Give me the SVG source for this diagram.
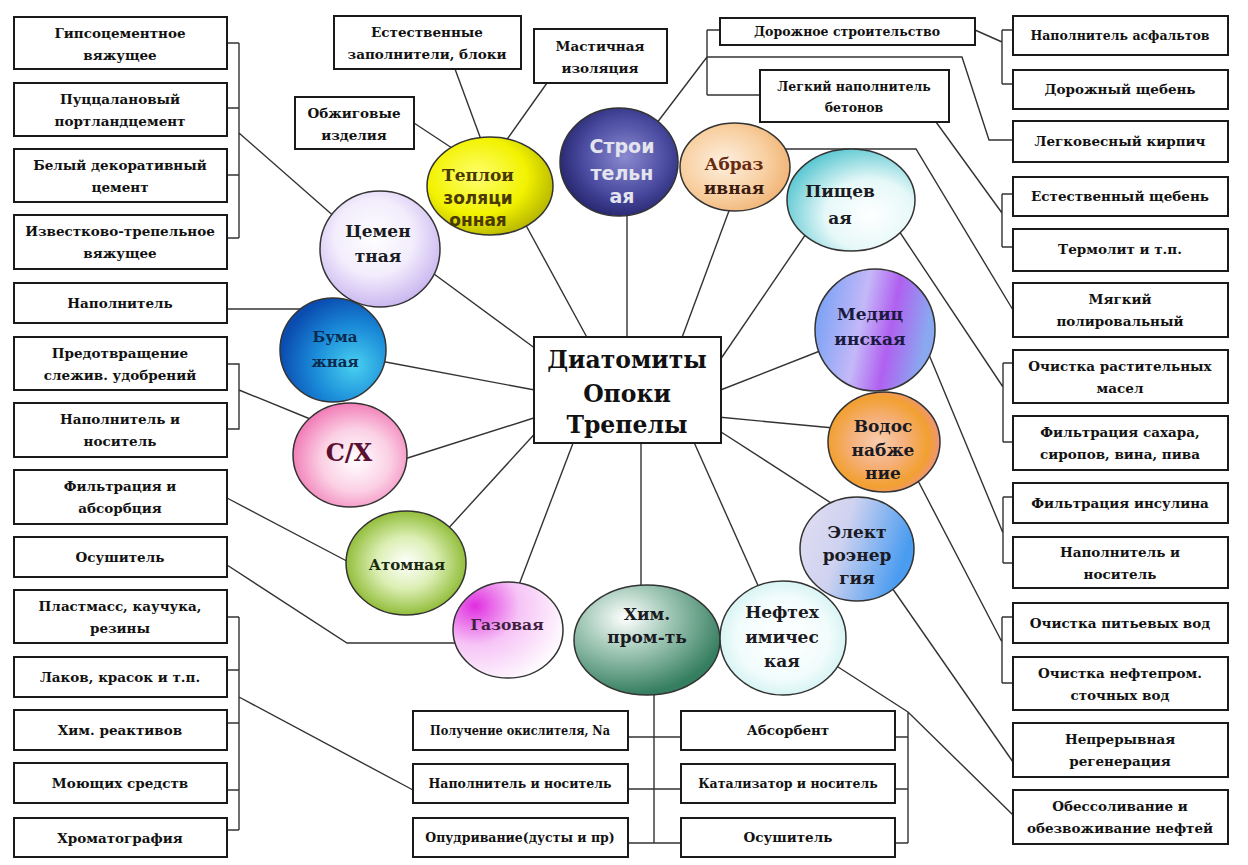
<svg xmlns="http://www.w3.org/2000/svg" width="1248" height="865" viewBox="0 0 1248 865">
<defs>
<style>
.box{fill:#fff;stroke:#1a1a1a;stroke-width:2}
.t{font-family:"DejaVu Serif","Liberation Serif",serif;font-weight:bold;font-size:13.5px;fill:#111;text-anchor:middle}
.s{font-size:12.5px}
.ct{font-family:"DejaVu Serif","Liberation Serif",serif;font-weight:bold;font-size:17px;fill:#1a1a22;text-anchor:middle}
.sans{font-family:"DejaVu Sans","Liberation Sans",sans-serif;font-weight:bold}
.cir{stroke:#333;stroke-width:1.5}
.ln{fill:none;stroke:#333;stroke-width:1.4}
.big{font-size:23.5px}
</style>
<radialGradient id="gCem" cx="45%" cy="40%" r="60%"><stop offset="0" stop-color="#ffffff"/><stop offset="0.55" stop-color="#f2ecfc"/><stop offset="1" stop-color="#cbb8f0"/></radialGradient>
<radialGradient id="gTep" cx="40%" cy="40%" r="65%"><stop offset="0" stop-color="#ffff70"/><stop offset="0.6" stop-color="#f2f200"/><stop offset="1" stop-color="#b4b400"/></radialGradient>
<radialGradient id="gStr" cx="55%" cy="45%" r="60%"><stop offset="0" stop-color="#8a8ad0"/><stop offset="0.6" stop-color="#4a4aa0"/><stop offset="1" stop-color="#22226a"/></radialGradient>
<radialGradient id="gAbr" cx="40%" cy="45%" r="65%"><stop offset="0" stop-color="#fdf0e0"/><stop offset="0.6" stop-color="#f8cfa0"/><stop offset="1" stop-color="#f0b070"/></radialGradient>
<radialGradient id="gPis" cx="65%" cy="65%" r="70%"><stop offset="0" stop-color="#ffffff"/><stop offset="0.5" stop-color="#e6f8f8"/><stop offset="1" stop-color="#5cc8d2"/></radialGradient>
<radialGradient id="gBum" cx="70%" cy="65%" r="70%"><stop offset="0" stop-color="#48d0f0"/><stop offset="0.55" stop-color="#1a8ad8"/><stop offset="1" stop-color="#0a4cb0"/></radialGradient>
<radialGradient id="gSX" cx="55%" cy="55%" r="60%"><stop offset="0" stop-color="#ffffff"/><stop offset="0.5" stop-color="#fbd0e4"/><stop offset="1" stop-color="#f070b0"/></radialGradient>
<radialGradient id="gAt" cx="50%" cy="50%" r="55%"><stop offset="0" stop-color="#ffffff"/><stop offset="0.45" stop-color="#dcefb4"/><stop offset="1" stop-color="#84b424"/></radialGradient>
<radialGradient id="gGaz" cx="20%" cy="25%" r="90%"><stop offset="0" stop-color="#e02ee0"/><stop offset="0.45" stop-color="#f6c4f6"/><stop offset="1" stop-color="#ffffff"/></radialGradient>
<radialGradient id="gHim" cx="35%" cy="30%" r="70%"><stop offset="0" stop-color="#ffffff"/><stop offset="0.4" stop-color="#a8ccbc"/><stop offset="1" stop-color="#357e60"/></radialGradient>
<radialGradient id="gNef" cx="50%" cy="50%" r="60%"><stop offset="0" stop-color="#ffffff"/><stop offset="0.6" stop-color="#f2fcfc"/><stop offset="1" stop-color="#c6eeee"/></radialGradient>
<linearGradient id="gEl" x1="0" y1="0" x2="1" y2="0.3"><stop offset="0" stop-color="#e2def2"/><stop offset="0.45" stop-color="#cfd2f0"/><stop offset="1" stop-color="#4a9cf0"/></linearGradient>
<radialGradient id="gVod" cx="45%" cy="50%" r="60%"><stop offset="0" stop-color="#f9cdb0"/><stop offset="0.4" stop-color="#f5b07a"/><stop offset="0.75" stop-color="#f2a030"/><stop offset="1" stop-color="#ec8ea0"/></radialGradient>
<linearGradient id="gMed" x1="0" y1="0" x2="1" y2="0.2"><stop offset="0" stop-color="#6c9ef4"/><stop offset="0.45" stop-color="#c4b8f8"/><stop offset="0.7" stop-color="#b060f0"/><stop offset="1" stop-color="#8aa8f0"/></linearGradient>
</defs>
<rect width="1248" height="865" fill="#fff"/>

<g id="connectors">
<path class="ln" d="M227,43 H239 M227,108 H239 M227,175 H239 M227,238 H239 M239,43 V238 M239,133 L345,226"/>
<path class="ln" d="M227,309 H310"/>
<path class="ln" d="M227,364 H239 V429 H227 M239,390 L320,423"/>
<path class="ln" d="M227,498 L360,568"/>
<path class="ln" d="M227,565 L347,643 H465"/>
<path class="ln" d="M227,617 H239 M227,670 H239 M227,723 H239 M227,790 H239 M227,830 H239 M239,617 V830 M239,697 L413,790"/>
<path class="ln" d="M415,260 L540,352"/>
<path class="ln" d="M375,360 L540,391"/>
<path class="ln" d="M395,462 L540,416"/>
<path class="ln" d="M445,532 L540,428"/>
<path class="ln" d="M517,590 L575,438"/>
<path class="ln" d="M522,218 L590,343"/>
<path class="ln" d="M627,200 V340"/>
<path class="ln" d="M733,200 L680,343"/>
<path class="ln" d="M810,228 L718,363"/>
<path class="ln" d="M825,349 L718,391"/>
<path class="ln" d="M718,417 L855,430"/>
<path class="ln" d="M718,430 L845,512"/>
<path class="ln" d="M641,440 V590"/>
<path class="ln" d="M693,440 L760,590"/>
<path class="ln" d="M455,69 L483,145"/>
<path class="ln" d="M547,83 L503,145"/>
<path class="ln" d="M414,123 L458,152"/>
<path class="ln" d="M650,132 L707,57 M707,30 H720 M707,95 H760 M707,30 V95 M707,57 H962 L989,140 H1013"/>
<path class="ln" d="M975,30 L1002,42 M1002,30 V84 M1002,30 H1013 M1002,84 H1013"/>
<path class="ln" d="M936,122 L1002,213 M1002,194 V247 M1002,194 H1013 M1002,247 H1013"/>
<path class="ln" d="M780,149 H916 L1013,310"/>
<path class="ln" d="M895,225 L1003,387 M1003,363 V442 M1003,363 H1013 M1003,442 H1013"/>
<path class="ln" d="M925,345 L1003,533 M1003,497 V563 M1003,497 H1013 M1003,563 H1013"/>
<path class="ln" d="M915,475 L1002,642 M1002,617 V683 M1002,617 H1013 M1002,683 H1013"/>
<path class="ln" d="M890,585 L1013,762"/>
<path class="ln" d="M835,665 L908,712 L1013,815 M908,712 V843 M895,737 H908 M895,789 H908 M895,843 H908"/>
<path class="ln" d="M654,690 V843 M628,737 H681 M628,789 H681 M628,843 H681"/>
</g>

<g id="center">
<rect class="box" x="534" y="337" width="187" height="106"/>
<text class="t big" x="627" y="368">Диатомиты</text>
<text class="t big" x="627" y="402">Опоки</text>
<text class="t big" x="627" y="433">Трепелы</text>
</g>

<g id="n-cement"><ellipse class="cir" fill="url(#gCem)" cx="380" cy="249" rx="60" ry="58"/><text class="ct" x="378" y="237">Цемен</text><text class="ct" x="378" y="262">тная</text></g>
<g id="n-teplo"><ellipse class="cir" fill="url(#gTep)" cx="490" cy="186" rx="63" ry="49"/><text class="ct" x="478" y="181" style="fill:#4a3a00">Теплои</text><text class="ct sans" x="478" y="204" style="fill:#4a3a00">золяци</text><text class="ct sans" x="478" y="226" style="fill:#4a3a00">онная</text></g>
<g id="n-stroi"><ellipse class="cir" fill="url(#gStr)" cx="619" cy="162" rx="59" ry="54"/><text class="ct sans" x="622" y="153" style="fill:#e4e4ee;font-size:19px">Строи</text><text class="ct sans" x="622" y="180" style="fill:#e4e4ee;font-size:19px">тельн</text><text class="ct sans" x="622" y="203" style="fill:#e4e4ee;font-size:19px">ая</text></g>
<g id="n-abraz"><ellipse class="cir" fill="url(#gAbr)" cx="735" cy="167" rx="55" ry="44"/><text class="ct" x="734" y="170" style="fill:#6a2a10">Абраз</text><text class="ct" x="734" y="194" style="fill:#3a1a10">ивная</text></g>
<g id="n-pish"><ellipse class="cir" fill="url(#gPis)" cx="851" cy="200" rx="64" ry="51"/><text class="ct" x="840" y="197">Пищев</text><text class="ct" x="840" y="224">ая</text></g>
<g id="n-bum"><ellipse class="cir" fill="url(#gBum)" cx="333" cy="350" rx="53" ry="52"/><text class="ct" x="335" y="342" style="font-size:15px;fill:#0c2a50">Бума</text><text class="ct" x="335" y="367" style="font-size:15px;fill:#0c2a50">жная</text></g>
<g id="n-sx"><ellipse class="cir" fill="url(#gSX)" cx="350" cy="455" rx="57" ry="52"/><text class="ct" x="349" y="461" style="font-size:24px;fill:#5a1030">С/Х</text></g>
<g id="n-atom"><ellipse class="cir" fill="url(#gAt)" cx="406" cy="563" rx="60" ry="52"/><text class="ct" x="407" y="570" style="font-size:15px;fill:#1a2a10">Атомная</text></g>
<g id="n-gaz"><ellipse class="cir" fill="url(#gGaz)" cx="508" cy="630" rx="55" ry="48"/><text class="ct" x="507" y="630" style="font-size:15.5px;fill:#402040">Газовая</text></g>
<g id="n-him"><ellipse class="cir" fill="url(#gHim)" cx="647" cy="640" rx="73" ry="55"/><text class="ct" x="647" y="620">Хим.</text><text class="ct" x="647" y="643">пром-ть</text></g>
<g id="n-neft"><ellipse class="cir" fill="url(#gNef)" cx="783" cy="638" rx="63" ry="57"/><text class="ct" x="782" y="618">Нефтех</text><text class="ct" x="782" y="643">имичес</text><text class="ct" x="782" y="667">кая</text></g>
<g id="n-elek"><ellipse class="cir" fill="url(#gEl)" cx="857" cy="549" rx="57" ry="52"/><text class="ct" x="857" y="538">Элект</text><text class="ct" x="857" y="561">роэнер</text><text class="ct" x="857" y="584">гия</text></g>
<g id="n-vodo"><ellipse class="cir" fill="url(#gVod)" cx="884" cy="442" rx="56" ry="50"/><text class="ct" x="883" y="432">Водос</text><text class="ct" x="883" y="456">набже</text><text class="ct" x="883" y="479">ние</text></g>
<g id="n-med"><ellipse class="cir" fill="url(#gMed)" cx="875" cy="330" rx="60" ry="61"/><text class="ct" x="870" y="320" style="fill:#1a1a40">Медиц</text><text class="ct" x="870" y="345" style="fill:#1a1a40">инская</text></g>

<g id="b-gips"><rect class="box" x="14" y="17" width="213" height="52"/><text class="t" x="120" y="38">Гипсоцементное</text><text class="t" x="120" y="60">вяжущее</text></g>
<g id="b-pucc"><rect class="box" x="14" y="83" width="213" height="53"/><text class="t" x="120" y="104">Пуццалановый</text><text class="t" x="120" y="126">портландцемент</text></g>
<g id="b-bel"><rect class="box" x="14" y="149" width="213" height="53"/><text class="t" x="120" y="170">Белый декоративный</text><text class="t" x="120" y="192">цемент</text></g>
<g id="b-izv"><rect class="box" x="14" y="215" width="213" height="54"/><text class="t" x="120" y="236">Известково-трепельное</text><text class="t" x="120" y="258">вяжущее</text></g>
<g id="b-napl"><rect class="box" x="14" y="283" width="213" height="40"/><text class="t" x="120" y="308">Наполнитель</text></g>
<g id="b-pred"><rect class="box" x="14" y="337" width="213" height="53"/><text class="t" x="120" y="358">Предотвращение</text><text class="t" x="120" y="380">слежив. удобрений</text></g>
<g id="b-napn"><rect class="box" x="14" y="403" width="213" height="54"/><text class="t" x="120" y="424">Наполнитель и</text><text class="t" x="120" y="446">носитель</text></g>
<g id="b-filt"><rect class="box" x="14" y="470" width="213" height="54"/><text class="t" x="120" y="491">Фильтрация и</text><text class="t" x="120" y="513">абсорбция</text></g>
<g id="b-osu"><rect class="box" x="14" y="537" width="213" height="40"/><text class="t" x="120" y="562">Осушитель</text></g>
<g id="b-plast"><rect class="box" x="14" y="590" width="213" height="53"/><text class="t" x="120" y="611">Пластмасс, каучука,</text><text class="t" x="120" y="633">резины</text></g>
<g id="b-lak"><rect class="box" x="14" y="657" width="213" height="40"/><text class="t" x="120" y="682">Лаков, красок и т.п.</text></g>
<g id="b-reak"><rect class="box" x="14" y="710" width="213" height="40"/><text class="t" x="120" y="735">Хим. реактивов</text></g>
<g id="b-moy"><rect class="box" x="14" y="763" width="213" height="40"/><text class="t" x="120" y="788">Моющих средств</text></g>
<g id="b-hrom"><rect class="box" x="14" y="818" width="213" height="39"/><text class="t" x="120" y="843">Хроматография</text></g>

<g id="b-estz"><rect class="box" x="334" y="16" width="187" height="53"/><text class="t" x="427" y="37">Естественные</text><text class="t" x="427" y="59">заполнители, блоки</text></g>
<g id="b-mast"><rect class="box" x="534" y="29" width="133" height="54"/><text class="t" x="600" y="51">Мастичная</text><text class="t" x="600" y="73">изоляция</text></g>
<g id="b-obzh"><rect class="box" x="295" y="97" width="119" height="52"/><text class="t" x="354" y="118">Обжиговые</text><text class="t" x="354" y="140">изделия</text></g>
<g id="b-dor"><rect class="box" x="720" y="18" width="255" height="27"/><text class="t s" x="847" y="36">Дорожное строительство</text></g>
<g id="b-legn"><rect class="box" x="760" y="70" width="189" height="52"/><text class="t s" x="854" y="91">Легкий наполнитель</text><text class="t s" x="854" y="112">бетонов</text></g>

<g id="b-asf"><rect class="box" x="1013" y="16" width="215" height="39"/><text class="t s" x="1120" y="40">Наполнитель асфальтов</text></g>
<g id="b-dsh"><rect class="box" x="1013" y="70" width="215" height="39"/><text class="t" x="1120" y="94">Дорожный щебень</text></g>
<g id="b-kirp"><rect class="box" x="1013" y="121" width="215" height="41"/><text class="t" x="1120" y="146">Легковесный кирпич</text></g>
<g id="b-esh"><rect class="box" x="1013" y="177" width="215" height="39"/><text class="t" x="1120" y="201">Естественный щебень</text></g>
<g id="b-term"><rect class="box" x="1013" y="229" width="215" height="42"/><text class="t" x="1120" y="254">Термолит и т.п.</text></g>
<g id="b-myag"><rect class="box" x="1013" y="283" width="215" height="54"/><text class="t" x="1120" y="304">Мягкий</text><text class="t" x="1120" y="326">полировальный</text></g>
<g id="b-ochr"><rect class="box" x="1013" y="350" width="215" height="53"/><text class="t" x="1120" y="371">Очистка растительных</text><text class="t" x="1120" y="393">масел</text></g>
<g id="b-sah"><rect class="box" x="1013" y="416" width="215" height="54"/><text class="t" x="1120" y="437">Фильтрация сахара,</text><text class="t" x="1120" y="459">сиропов, вина, пива</text></g>
<g id="b-ins"><rect class="box" x="1013" y="483" width="215" height="40"/><text class="t" x="1120" y="508">Фильтрация инсулина</text></g>
<g id="b-napn2"><rect class="box" x="1013" y="537" width="215" height="51"/><text class="t" x="1120" y="557">Наполнитель и</text><text class="t" x="1120" y="579">носитель</text></g>
<g id="b-pit"><rect class="box" x="1013" y="603" width="215" height="40"/><text class="t" x="1120" y="628">Очистка питьевых вод</text></g>
<g id="b-neftv"><rect class="box" x="1013" y="657" width="215" height="53"/><text class="t" x="1120" y="678">Очистка нефтепром.</text><text class="t" x="1120" y="700">сточных вод</text></g>
<g id="b-regen"><rect class="box" x="1013" y="723" width="215" height="54"/><text class="t" x="1120" y="744">Непрерывная</text><text class="t" x="1120" y="766">регенерация</text></g>
<g id="b-obes"><rect class="box" x="1013" y="790" width="215" height="54"/><text class="t" x="1120" y="811">Обессоливание и</text><text class="t" x="1120" y="833">обезвоживание нефтей</text></g>

<g id="b-polu"><rect class="box" x="413" y="711" width="215" height="39"/><text class="t s" x="520" y="735" textLength="180" lengthAdjust="spacingAndGlyphs">Получение окислителя, Na</text></g>
<g id="b-napn3"><rect class="box" x="413" y="764" width="215" height="39"/><text class="t s" x="520" y="788">Наполнитель и носитель</text></g>
<g id="b-opud"><rect class="box" x="413" y="818" width="215" height="39"/><text class="t s" x="520" y="842">Опудривание(дусты и пр)</text></g>
<g id="b-abs"><rect class="box" x="681" y="711" width="214" height="39"/><text class="t" x="788" y="735">Абсорбент</text></g>
<g id="b-kat"><rect class="box" x="681" y="764" width="214" height="39"/><text class="t s" x="788" y="788">Катализатор и носитель</text></g>
<g id="b-osu2"><rect class="box" x="681" y="818" width="214" height="39"/><text class="t" x="788" y="842">Осушитель</text></g>
</svg>
